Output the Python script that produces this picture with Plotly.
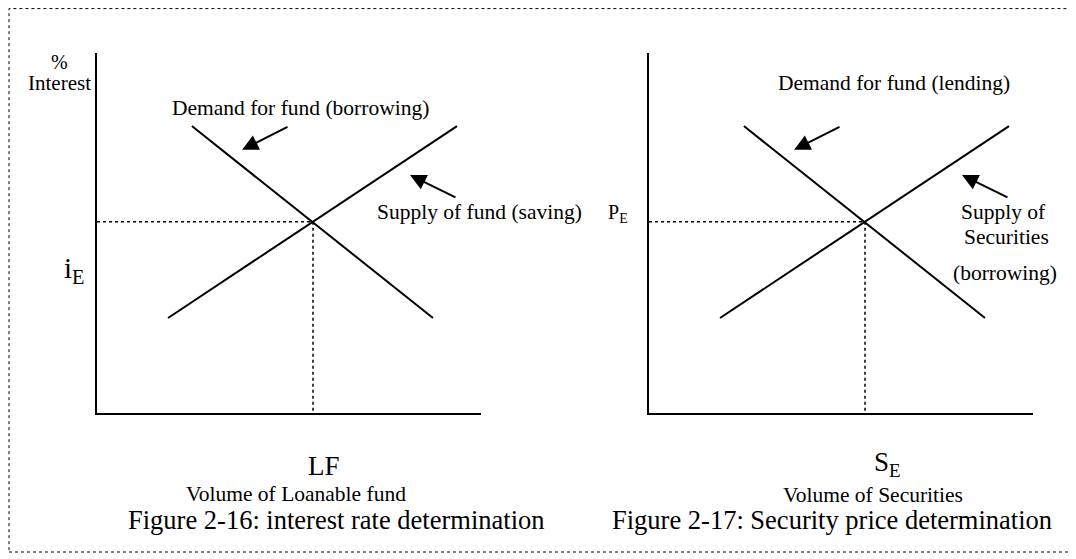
import plotly.graph_objects as go

# page offset (default body margin) compensation
OFF = 8
W, H = 1076 - OFF, 559 - OFF

# ---- data (abstract units: quantity 0-10, price/interest 0-10) ----
demand_x = [2.47, 8.75]
demand_y = [7.97, 2.64]
supply_x = [1.85, 9.375]
supply_y = [2.64, 7.97]
eq_x = 5.625
eq_y = 5.31
# arrows: (tail_x, tail_y, head_x, head_y)
demand_arrow = [5.0, 7.97, 3.78, 7.31]
supply_arrow = [9.375, 5.97, 8.15, 6.61]

FONT = "Liberation Serif"

fig = go.Figure()


def px(x):
    return (x - OFF) / W


def py(y):
    return 1 - (y - OFF) / H


panels = [("x", "y", 97, 481), ("x2", "y2", 649, 1033)]
top_px, bot_px = 53, 413

for xa, ya, l, r in panels:
    fig.add_trace(go.Scatter(x=demand_x, y=demand_y, mode="lines", xaxis=xa, yaxis=ya,
                             line=dict(color="black", width=2), showlegend=False, hoverinfo="skip"))
    fig.add_trace(go.Scatter(x=supply_x, y=supply_y, mode="lines", xaxis=xa, yaxis=ya,
                             line=dict(color="black", width=2), showlegend=False, hoverinfo="skip"))
    fig.add_trace(go.Scatter(x=[0, eq_x, eq_x], y=[eq_y, eq_y, 0], mode="lines", xaxis=xa, yaxis=ya,
                             line=dict(color="black", width=1.5, dash="dot"), showlegend=False,
                             hoverinfo="skip"))
    for arr in (demand_arrow, supply_arrow):
        fig.add_annotation(x=arr[2], y=arr[3], ax=arr[0], ay=arr[1], xref=xa, yref=ya,
                           axref=xa, ayref=ya, text="", showarrow=True, arrowhead=2,
                           arrowsize=1.6, arrowwidth=2, arrowcolor="black", standoff=0)

axis_common = dict(range=[0, 10], showgrid=False, zeroline=False, showticklabels=False,
                   ticks="", showline=True, linecolor="black", linewidth=2, fixedrange=True)

fig.update_layout(
    width=W, height=H,
    margin=dict(l=0, r=0, t=0, b=0),
    paper_bgcolor="white", plot_bgcolor="white",
    xaxis=dict(domain=[px(97), px(481)], anchor="y", **axis_common),
    yaxis=dict(domain=[py(bot_px), py(top_px)], anchor="x", **axis_common),
    xaxis2=dict(domain=[px(649), px(1033)], anchor="y2", **axis_common),
    yaxis2=dict(domain=[py(bot_px), py(top_px)], anchor="x2", **axis_common),
    font=dict(family=FONT, color="black"),
)

# dotted border
fig.add_shape(type="rect", xref="paper", yref="paper", x0=px(9), x1=px(1073), y0=py(552), y1=py(8.6),
              line=dict(color="black", width=1, dash="dot"))


def label(text, x, y, size, xanchor="center"):
    fig.add_annotation(text=text, x=px(x), y=py(y), xref="paper", yref="paper",
                       showarrow=False, xanchor=xanchor, yanchor="middle",
                       font=dict(family=FONT, size=size, color="black"))


label("%", 59, 62, 20)
label("Interest", 93, 83, 21, xanchor="right")
label("Demand for fund (borrowing)", 170, 108, 21.5, xanchor="left")
label("Supply of fund (saving)", 375, 212, 21.5, xanchor="left")
label("i<sub>E</sub>", 62, 270, 29, xanchor="left")
label("P<sub>E</sub>", 606, 214, 20, xanchor="left")
label("LF", 324, 466, 27)
label("Volume of Loanable fund", 296, 494, 21.5)
label("Figure 2-16: interest rate determination", 126, 520, 26.5, xanchor="left")

label("Demand for fund (lending)", 776, 83, 21.5, xanchor="left")
label("Supply of", 1003, 212, 21.5)
label("Securities", 1006, 237, 21.5)
label("(borrowing)", 1005, 273, 21.5)
label("S<sub>E</sub>", 887, 464, 27)
label("Volume of Securities", 873, 495, 21.5)
label("Figure 2-17: Security price determination", 610, 520, 26.5, xanchor="left")

fig.write_html("out.html")
